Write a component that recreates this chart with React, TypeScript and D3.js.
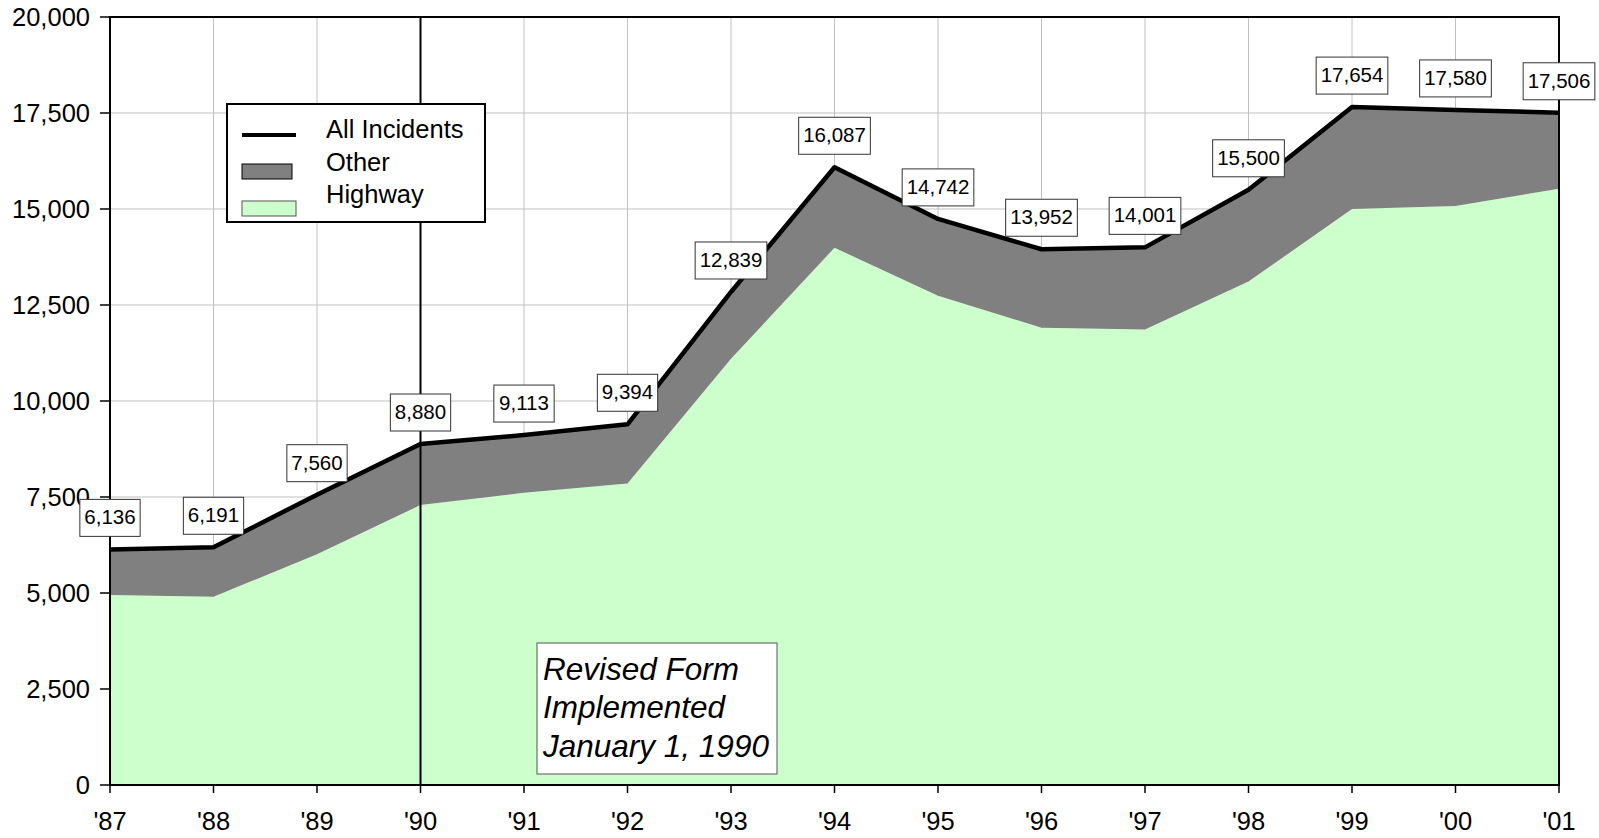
import React from 'react';
import * as d3 from 'd3';

// Yearly incident counts
const years = ["'87", "'88", "'89", "'90", "'91", "'92", "'93", "'94", "'95", "'96", "'97", "'98", "'99", "'00", "'01"];
const allIncidents = [6136, 6191, 7560, 8880, 9113, 9394, 12839, 16087, 14742, 13952, 14001, 15500, 17654, 17580, 17506];
const highway = [4950, 4900, 6010, 7290, 7610, 7850, 11100, 13990, 12740, 11910, 11860, 13110, 15000, 15080, 15530];
const yTicks = [0, 2500, 5000, 7500, 10000, 12500, 15000, 17500, 20000];

const FONT = "'Liberation Sans', Arial, sans-serif";

const App = () => {
  const width = 1599;
  const height = 838;
  const margin = { top: 17, right: 40, bottom: 53, left: 110 };
  const innerW = width - margin.left - margin.right;
  const innerH = height - margin.top - margin.bottom;

  const x = d3.scalePoint<string>().domain(years).range([0, innerW]);
  const y = d3.scaleLinear().domain([0, 20000]).range([innerH, 0]);

  const rows = years.map((yr, i) => ({ yr, total: allIncidents[i], hwy: highway[i] }));

  const hwyArea = d3.area<typeof rows[0]>()
    .x(d => x(d.yr)!)
    .y0(innerH)
    .y1(d => y(d.hwy));
  const otherArea = d3.area<typeof rows[0]>()
    .x(d => x(d.yr)!)
    .y0(d => y(d.hwy))
    .y1(d => y(d.total));
  const totalLine = d3.line<typeof rows[0]>()
    .x(d => x(d.yr)!)
    .y(d => y(d.total));

  const fmt = d3.format(',');
  // rough Arial text width for digits and commas
  const labelWidth = (s: string) =>
    s.split('').reduce((w, c) => w + (c === ',' ? 0.278 : 0.556), 0) * 20.5 + 9;

  const x90 = x("'90")!;

  return (
    <div style={{ position: 'fixed', left: 0, top: 0 }}>
      <svg width={width} height={height} style={{ display: 'block', background: '#fff' }} fontFamily={FONT}>
        <g transform={`translate(${margin.left},${margin.top})`}>
          {/* grid */}
          {yTicks.map(t => (
            <line key={t} x1={0} x2={innerW} y1={y(t)} y2={y(t)} stroke="#c0c0c0" strokeWidth={1} />
          ))}
          {years.map(yr => (
            <line key={yr} x1={x(yr)} x2={x(yr)} y1={0} y2={innerH} stroke="#c0c0c0" strokeWidth={1} />
          ))}

          {/* areas */}
          <path d={hwyArea(rows)!} fill="#ccffcc" />
          <path d={otherArea(rows)!} fill="#808080" />
          <path d={totalLine(rows)!} fill="none" stroke="#000" strokeWidth={4.5} strokeLinejoin="round" />

          {/* 1990 marker */}
          <line x1={x90} x2={x90} y1={0} y2={innerH} stroke="#000" strokeWidth={2} />

          {/* frame */}
          <rect x={0} y={0} width={innerW} height={innerH} fill="none" stroke="#000" strokeWidth={2} />

          {/* y axis */}
          {yTicks.map(t => (
            <g key={t} transform={`translate(0,${y(t)})`}>
              <line x1={-10} x2={0} stroke="#000" strokeWidth={1.5} />
              <text x={-20} dy="0.35em" textAnchor="end" fontSize={25.5} fill="#000">{fmt(t)}</text>
            </g>
          ))}

          {/* x axis */}
          {years.map(yr => (
            <g key={yr} transform={`translate(${x(yr)},${innerH})`}>
              <line y1={0} y2={8} stroke="#000" strokeWidth={1.5} />
              <text y={45} textAnchor="middle" fontSize={25.5} fill="#000">{yr}</text>
            </g>
          ))}

          {/* value labels */}
          {rows.map(d => {
            const w = labelWidth(fmt(d.total));
            const cx = x(d.yr)!;
            const bottom = y(d.total) - 13;
            return (
              <g key={d.yr}>
                <rect x={cx - w / 2} y={bottom - 37} width={w} height={37} fill="#fff" stroke="#333" strokeWidth={1} />
                <text x={cx} y={bottom - 12} textAnchor="middle" fontSize={20.5} fill="#000">{fmt(d.total)}</text>
              </g>
            );
          })}
        </g>

        {/* legend */}
        <g>
          <rect x={227} y={104} width={258} height={118} fill="#fff" stroke="#000" strokeWidth={2} />
          <line x1={242} x2={296} y1={135} y2={135} stroke="#000" strokeWidth={4} />
          <rect x={242} y={164} width={50} height={15} fill="#808080" stroke="#000" strokeWidth={1} />
          <rect x={242} y={201} width={54} height={15} fill="#ccffcc" stroke="#555" strokeWidth={1} />
          <text x={326} y={138} fontSize={25.5} fill="#000">All Incidents</text>
          <text x={326} y={171} fontSize={25.5} fill="#000">Other</text>
          <text x={326} y={203} fontSize={25.5} fill="#000">Highway</text>
        </g>

        {/* annotation */}
        <g>
          <rect x={537} y={643} width={240} height={131} fill="#fff" stroke="#555" strokeWidth={1} />
          <text x={543} fontSize={31.5} fontStyle="italic" fill="#000">
            <tspan x={543} y={680}>Revised Form</tspan>
            <tspan x={543} y={718}>Implemented</tspan>
            <tspan x={543} y={757}>January 1, 1990</tspan>
          </text>
        </g>
      </svg>
    </div>
  );
};

export default App;
